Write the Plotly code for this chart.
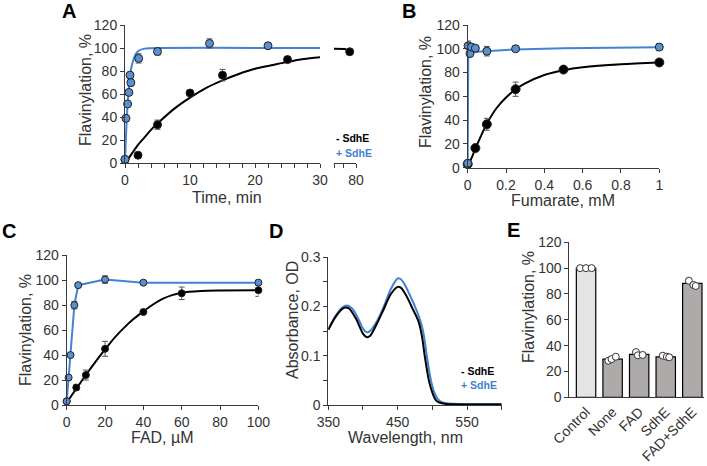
import plotly.graph_objects as go

W, H = 707, 466
FONT = "Liberation Sans Narrow, Arial Narrow, Liberation Sans, Arial"
BOLD = "Liberation Sans, Arial"
AXIS = "#3a3a3a"
TXT = "#333333"
BLUE_LINE = "#4283d4"
BLUE_FILL = "#5b8fd0"

# ---- A: time course ----
a_time_minus = [0, 2, 5, 10, 15, 25]
a_flav_minus = [3, 7, 33.5, 61, 76.5, 90]
a_err_minus = [1, 1.5, 4, 1.5, 5, 1]
a_time_plus = [0, 0.15, 0.4, 0.6, 0.77, 0.9, 2.1, 5, 13, 22]
a_flav_plus = [3.5, 39, 51.5, 61.5, 76.5, 70, 91, 97, 104, 102]
a_err_plus = [1, 1, 1, 1, 2, 3, 4, 3, 4, 2]
a_fit_t_minus = [0, 1, 2, 3, 4, 5, 7.5, 10, 12.5, 15, 17.5, 20, 22.5, 25, 27.5, 30]
a_fit_minus = [0, 8, 16, 22.5, 29, 34.5, 47, 57, 65.5, 72, 77.5, 82, 85, 88, 90.5, 92]
a_fit_t_plus = [0, 0.1, 0.25, 0.5, 0.75, 1, 1.5, 2, 3, 4, 30]
a_fit_plus = [0, 16.5, 36, 59, 74, 83.5, 93, 97.3, 99.5, 99.9, 100]
a_late_t = [78]
a_late_flav = [96.8]
a_late_fit_t = [73, 76.5, 78]
a_late_fit = [99.4, 99.2, 96.8]
a_xticks = list(range(0, 31, 2))
a_xlabels = [str(v) if v % 10 == 0 else "" for v in a_xticks]

# ---- B: fumarate ----
b_fum_minus = [0, 0.04, 0.1, 0.25, 0.5, 1]
b_flav_minus = [3, 16.5, 36.5, 66, 82.5, 88.5]
b_err_minus = [1, 1, 5, 6, 1, 2]
b_fum_plus = [0, 0.002, 0.012, 0.02, 0.04, 0.1, 0.25, 1]
b_flav_plus = [3.7, 102.5, 96, 101.5, 100.5, 98, 100, 101.4]
b_err_plus = [1, 4, 2, 2, 2, 4, 2, 3]
b_fit_x_minus = [0, 0.02, 0.04, 0.07, 0.1, 0.15, 0.2, 0.25, 0.3, 0.4, 0.5, 0.6, 0.8, 1]
b_fit_minus = [1, 8, 16, 27, 37, 50, 59, 66, 71, 78, 82, 84.5, 87, 88.5]
b_fit_x_plus = [0, 0.003, 0.05, 0.1, 0.25, 0.5, 1]
b_fit_plus = [3, 96, 97.5, 98, 99.5, 100.5, 101.2]

# ---- C: FAD ----
c_fad_minus = [0, 5, 10, 20, 40, 60, 100]
c_flav_minus = [3, 14, 24, 45, 74.5, 89.5, 92]
c_err_minus = [1, 2, 4, 6, 1.5, 5, 5]
c_fad_plus = [0, 1, 2, 4, 6, 20, 40, 100]
c_flav_plus = [3, 22, 40, 80, 96, 100.5, 98, 98]
c_err_plus = [1, 1, 1, 3, 1, 3, 1, 2]
c_fit_x_minus = [0, 5, 10, 15, 20, 25, 30, 35, 40, 45, 50, 55, 60, 70, 80, 100]
c_fit_minus = [2, 13, 24, 34.5, 44.5, 54, 62, 69, 75, 80.5, 85, 88, 90, 91.3, 91.7, 92]

# ---- D: spectra ----
d_wl_minus = [350, 360, 370, 375, 380, 390, 400, 405, 410, 420, 430, 440, 450, 455, 460,
              465, 470, 480, 485, 489, 495, 500, 505, 510, 520, 530, 550, 600]
d_abs_minus = [0.153, 0.178, 0.195, 0.198, 0.196, 0.175, 0.145, 0.138, 0.14, 0.165, 0.195,
               0.225, 0.24, 0.238, 0.228, 0.215, 0.2, 0.17, 0.14, 0.1, 0.05, 0.025, 0.01,
               0.005, 0.002, 0.0015, 0.001, 0.001]
d_wl_plus = [350, 360, 370, 377, 385, 395, 400, 405, 410, 420, 430, 440, 450, 455, 460,
             467, 475, 483, 488, 492, 498, 503, 508, 515, 525, 550, 600]
d_abs_plus = [0.153, 0.18, 0.198, 0.202, 0.195, 0.17, 0.155, 0.148, 0.15, 0.17, 0.2,
              0.235, 0.257, 0.255, 0.245, 0.225, 0.2, 0.17, 0.14, 0.1, 0.05, 0.025, 0.012,
              0.005, 0.003, 0.002, 0.002]
d_xticks = [350, 400, 450, 500, 550, 600]
d_xlabels = ["350", "", "450", "", "550", ""]
d_yticks = [0, 0.05, 0.1, 0.15, 0.2, 0.25, 0.3]
d_ylabels = ["0", "", "0.1", "", "0.2", "", "0.3"]

# ---- E: bars ----
e_conditions = ["Control", "None", "FAD", "SdhE", "FAD+SdhE"]
e_means = [100, 29.5, 33.3, 31.3, 88.2]
e_reps = [[100, 100, 100], [28.3, 29.6, 31.4], [35, 32.5, 32.8], [32.2, 31.4, 31], [90.3, 87, 86.2]]


def fx(px):
    return px / W


def fy(py):
    return 1 - py / H


fig = go.Figure()


def pts(x, y, err, xa, ya, fill, size, line="#222222"):
    fig.add_trace(go.Scatter(
        x=x, y=y, xaxis=xa, yaxis=ya, mode="markers", cliponaxis=False,
        marker=dict(size=size, color=fill, line=dict(color=line, width=1)),
        error_y=dict(type="data", array=err, color="#555555", thickness=1, width=3),
    ))


def curve(x, y, xa, ya, color, shape="spline", width=2):
    fig.add_trace(go.Scatter(
        x=x, y=y, xaxis=xa, yaxis=ya, mode="lines",
        line=dict(color=color, width=width, shape=shape, smoothing=0.8),
    ))


# A
curve(a_fit_t_minus, a_fit_minus, "x", "y", "black")
curve(a_fit_t_plus, a_fit_plus, "x", "y", BLUE_LINE)
pts(a_time_minus, a_flav_minus, a_err_minus, "x", "y", "black", 8)
pts(a_time_plus, a_flav_plus, a_err_plus, "x", "y", BLUE_FILL, 8)
curve(a_late_fit_t, a_late_fit, "x2", "y", "black", shape="linear")
pts(a_late_t, a_late_flav, [0], "x2", "y", "black", 8)

# B
curve(b_fit_x_minus, b_fit_minus, "x3", "y3", "black")
curve(b_fit_x_plus, b_fit_plus, "x3", "y3", BLUE_LINE, shape="linear")
pts(b_fum_minus, b_flav_minus, b_err_minus, "x3", "y3", "black", 9)
pts(b_fum_plus, b_flav_plus, b_err_plus, "x3", "y3", BLUE_FILL, 8)

# C
curve(c_fit_x_minus, c_fit_minus, "x4", "y4", "black")
curve(c_fad_plus, c_flav_plus, "x4", "y4", BLUE_LINE, shape="linear")
pts(c_fad_minus, c_flav_minus, c_err_minus, "x4", "y4", "black", 7)
pts(c_fad_plus, c_flav_plus, c_err_plus, "x4", "y4", BLUE_FILL, 7)

# D
curve(d_wl_plus, d_abs_plus, "x5", "y5", BLUE_LINE)
curve(d_wl_minus, d_abs_minus, "x5", "y5", "black")

# E
fig.add_trace(go.Bar(
    x=list(range(len(e_conditions))), y=e_means, xaxis="x6", yaxis="y6", width=0.73,
    marker=dict(color=["#e4e4e4"] + ["#aeaaaa"] * 4, line=dict(color="black", width=1.2)),
))
jitter = [[-0.22, 0, 0.21], [-0.16, -0.04, 0.12], [-0.12, -0.05, 0.13], [-0.11, 0.04, 0.13], [-0.13, 0.04, 0.13]]
dot_x, dot_y = [], []
for i, reps in enumerate(e_reps):
    for j, v in enumerate(reps):
        dot_x.append(i + jitter[i][j])
        dot_y.append(v)
fig.add_trace(go.Scatter(
    x=dot_x, y=dot_y, xaxis="x6", yaxis="y6", mode="markers", cliponaxis=False,
    marker=dict(size=7, color="white", line=dict(color="#333333", width=1)),
))


def axis(dom_px, rng, anchor, **kw):
    d = dict(
        domain=dom_px, range=rng, anchor=anchor, showline=True, linecolor=AXIS, linewidth=1,
        ticks="outside", ticklen=4, tickcolor=AXIS, showgrid=False, zeroline=False,
        tickfont=dict(family=FONT, size=14, color=TXT), fixedrange=True, automargin=False,
    )
    d.update(kw)
    return d


def xdom(a, b):
    return [fx(a), fx(b)]


def ydom(bottom, top):
    return [fy(bottom), fy(top)]


fig.update_layout(
    width=W, height=H, margin=dict(l=0, r=0, t=0, b=0), autosize=False,
    paper_bgcolor="white", plot_bgcolor="white", showlegend=False,
    xaxis=axis(xdom(125, 320), [0, 30], "y", tickmode="array", tickvals=a_xticks, ticktext=a_xlabels),
    yaxis=axis(ydom(163.3, 25), [0, 120], "x", dtick=20),
    xaxis2=axis(xdom(334, 356), [73, 80], "y", tickmode="array", tickvals=[73, 76, 80], ticktext=["", "", "80"]),
    xaxis3=axis(xdom(467.7, 659.3), [0, 1], "y3", tickmode="array",
                tickvals=[0, 0.2, 0.4, 0.6, 0.8, 1], ticktext=["0", "0.2", "0.4", "0.6", "0.8", "1"]),
    yaxis3=axis(ydom(167.7, 25), [0, 120], "x3", dtick=20),
    xaxis4=axis(xdom(66.7, 258.4), [0, 100], "y4", dtick=20),
    yaxis4=axis(ydom(405, 255.2), [0, 120], "x4", dtick=20),
    xaxis5=axis(xdom(328.3, 501.7), [350, 600], "y5", tickmode="array", tickvals=d_xticks, ticktext=d_xlabels),
    yaxis5=axis(ydom(405, 257.3), [0, 0.3], "x5", tickmode="array", tickvals=d_yticks, ticktext=d_ylabels),
    xaxis6=axis(xdom(569.3, 704), [-0.63, 4.44], "y6", tickmode="array",
                tickvals=list(range(len(e_conditions))), ticktext=e_conditions, tickangle=-45, ticks=""),
    yaxis6=axis(ydom(397.3, 242.3), [0, 120], "x6", dtick=20),
)

notes = [
    # panel letters
    ("A", 69, 11, 0, BOLD, 20, "black", True, "center"),
    ("B", 409, 11, 0, BOLD, 20, "black", True, "center"),
    ("C", 9, 231, 0, BOLD, 20, "black", True, "center"),
    ("D", 276, 231, 0, BOLD, 20, "black", True, "center"),
    ("E", 513, 230, 0, BOLD, 20, "black", True, "center"),
    # axis titles
    ("Flavinylation, %", 85, 90, -90, FONT, 16, TXT, False, "center"),
    ("Time, min", 227, 197, 0, FONT, 16, TXT, False, "center"),
    ("Flavinylation, %", 425, 92, -90, FONT, 16, TXT, False, "center"),
    ("Fumarate, mM", 563, 201, 0, FONT, 16, TXT, False, "center"),
    ("Flavinylation, %", 25, 330, -90, FONT, 16, TXT, False, "center"),
    ("FAD, µM", 162, 437, 0, FONT, 16, TXT, False, "center"),
    ("Absorbance, OD", 292, 320, -90, FONT, 16, TXT, False, "center"),
    ("Wavelength, nm", 405, 437, 0, FONT, 16, TXT, False, "center"),
    ("Flavinylation, %", 528, 307, -90, FONT, 16, TXT, False, "center"),
    # legends
    ("- SdhE", 334, 137.5, 0, BOLD, 10.5, "black", True, "left"),
    ("+ SdhE", 334, 152.5, 0, BOLD, 10.5, "#3f7fd0", True, "left"),
    ("- SdhE", 459, 371, 0, BOLD, 10.5, "black", True, "left"),
    ("+ SdhE", 459, 385, 0, BOLD, 10.5, "#3f7fd0", True, "left"),
]
for text, px, py, ang, fam, size, color, bold, anchor in notes:
    fig.add_annotation(
        text=f"<b>{text}</b>" if bold else text, x=fx(px), y=fy(py), xref="paper", yref="paper",
        showarrow=False, textangle=ang, xanchor=anchor, yanchor="middle",
        font=dict(family=fam, size=size, color=color),
    )

fig.write_html(
    "out.html",
    config={"displayModeBar": False},
    post_script="document.body.style.margin='0';document.body.style.overflow='hidden';",
)
